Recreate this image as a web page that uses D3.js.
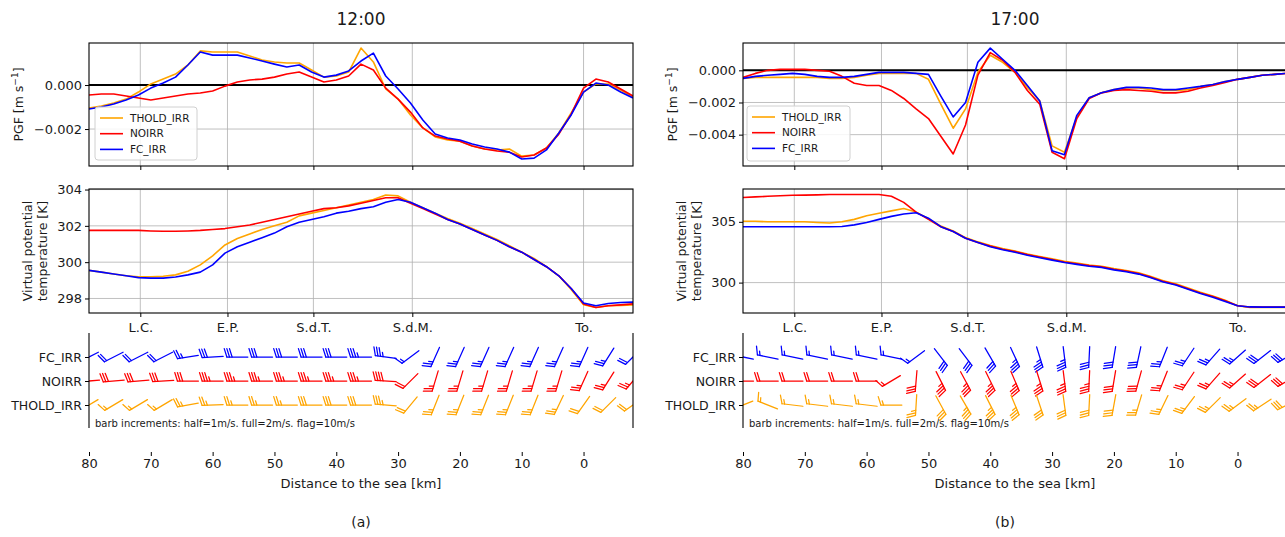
<!DOCTYPE html>
<html><head><meta charset="utf-8">
<script src="https://cdn.jsdelivr.net/npm/d3@7/dist/d3.min.js"></script>
<style>
body{margin:0;background:#fff}
svg{display:block;font-family:"DejaVu Sans",sans-serif}
</style></head><body>
<svg id="chart" width="1285" height="537"></svg>
<script>
// ---------------- DATA ----------------
const distanceKm = [80,78,76,74,72,70,68,66,64,62,60,58,56,54,52,50,48,46,44,42,40,38,36,34,32,30,28,26,24,22,20,18,16,14,12,10,8,6,4,2,0,-2,-4,-6,-8];
const landmarkNames = ["L.C.","E.P.","S.d.T.","S.d.M.","To."];
const landmarkKm = [71.7,57.6,43.7,27.7,0];
const distanceTicks = [80,70,60,50,40,30,20,10,0];
const seriesNames = ["THOLD_IRR","NOIRR","FC_IRR"];
const seriesColors = ["orange","red","blue"];
const barbRows = ["FC_IRR","NOIRR","THOLD_IRR"];
const panelTitles = ["12:00","17:00"];
const panelCaptions = ["(a)","(b)"];

// PGF [m s-1]
const pgf1200_THOLD = [-0.00105,-0.00095,-0.00082,-0.00064,-0.00032,0.00005,0.00027,0.00050,0.00091,0.00155,
  0.00150,0.00150,0.00150,0.00132,0.00114,0.00105,0.00100,0.00100,0.00068,0.00036,
  0.00041,0.00059,0.00168,0.00105,-0.00018,-0.00064,-0.00136,-0.00195,-0.00236,-0.00250,
  -0.00255,-0.00277,-0.00291,-0.00295,-0.00291,-0.00323,-0.00318,-0.00286,-0.00218,-0.00127,
  -0.00032,0.00005,0.00005,-0.00023,-0.00055];
const pgf1200_NOIRR = [-0.00045,-0.00041,-0.00041,-0.00050,-0.00059,-0.00068,-0.00059,-0.00050,-0.00041,-0.00036,
  -0.00027,-0.00005,0.00014,0.00023,0.00027,0.00036,0.00050,0.00059,0.00036,0.00014,
  0.00023,0.00041,0.00095,0.00068,-0.00014,-0.00064,-0.00123,-0.00195,-0.00232,-0.00245,
  -0.00255,-0.00277,-0.00291,-0.00300,-0.00305,-0.00327,-0.00318,-0.00286,-0.00223,-0.00132,
  -0.00014,0.00027,0.00014,-0.00018,-0.00050];
const pgf1200_FC = [-0.00109,-0.00100,-0.00086,-0.00068,-0.00045,-0.00014,0.00009,0.00036,0.00091,0.00150,
  0.00136,0.00136,0.00136,0.00123,0.00109,0.00095,0.00082,0.00091,0.00059,0.00036,
  0.00045,0.00064,0.00109,0.00145,0.00041,-0.00018,-0.00082,-0.00159,-0.00223,-0.00241,
  -0.00250,-0.00268,-0.00282,-0.00291,-0.00305,-0.00336,-0.00332,-0.00295,-0.00218,-0.00136,
  -0.00032,0.00009,0.00000,-0.00032,-0.00059];
const pgf1700_THOLD = [-0.0005,-0.00044,-0.00044,-0.00044,-0.00044,-0.00044,-0.00044,-0.0005,-0.0005,-0.00044,
  -0.00031,-0.00019,-0.00019,-0.00019,-0.00019,-0.00056,-0.0021,-0.0036,-0.0024,-0.000125,
  0.00094,0.0005,-0.000125,-0.00106,-0.0019,-0.0047,-0.0051,-0.0029,-0.0017,-0.0014,
  -0.0012,-0.0011,-0.0011,-0.0012,-0.00125,-0.00125,-0.0012,-0.001,-0.00088,-0.0007,
  -0.00056,-0.00044,-0.00031,-0.00025,-0.00019];
const pgf1700_NOIRR = [-0.00044,-0.00019,0,0.00006,0.00006,0.00006,0,-0.00006,-0.000375,-0.0008,
  -0.00094,-0.00094,-0.00125,-0.00175,-0.0024,-0.003,-0.0041,-0.0052,-0.0034,-0.0003,
  0.0011,0.000625,-0.000125,-0.00125,-0.0021,-0.0051,-0.0055,-0.003,-0.00175,-0.0014,
  -0.00125,-0.0012,-0.00125,-0.0013,-0.0014,-0.0014,-0.0013,-0.0011,-0.00094,-0.00075,
  -0.00056,-0.00044,-0.00031,-0.00025,-0.00019];
const pgf1700_FC = [-0.0005,-0.000375,-0.00031,-0.00025,-0.00019,-0.00025,-0.000375,-0.00044,-0.00044,-0.000375,
  -0.00025,-0.000125,-0.000125,-0.000125,-0.00019,-0.00025,-0.0016,-0.0029,-0.002,0.0005,
  0.00138,0.00069,0.0,-0.00094,-0.0019,-0.005,-0.00525,-0.0028,-0.0017,-0.0014,
  -0.0012,-0.00106,-0.00106,-0.0011,-0.0012,-0.0012,-0.0011,-0.001,-0.00088,-0.0007,
  -0.00056,-0.00044,-0.00031,-0.00025,-0.00019];

// Virtual potential temperature [K]
const thv1200_THOLD = [299.55,299.45,299.35,299.25,299.2,299.2,299.22,299.3,299.5,299.85,
  300.35,300.95,301.3,301.55,301.8,302.0,302.2,302.55,302.7,302.85,
  303.0,303.15,303.3,303.45,303.7,303.65,303.3,303.0,302.7,302.4,
  302.15,301.85,301.55,301.25,300.9,300.55,300.2,299.75,299.25,298.5,
  297.65,297.5,297.6,297.62,297.65];
const thv1200_NOIRR = [301.75,301.75,301.75,301.75,301.75,301.72,301.7,301.7,301.72,301.75,
  301.8,301.85,301.95,302.05,302.2,302.35,302.5,302.65,302.8,302.95,
  303.0,303.1,303.25,303.4,303.55,303.55,303.25,302.95,302.65,302.35,
  302.1,301.8,301.5,301.2,300.85,300.55,300.15,299.75,299.25,298.55,
  297.7,297.5,297.6,297.65,297.7];
const thv1200_FC = [299.55,299.45,299.35,299.25,299.15,299.12,299.12,299.18,299.3,299.45,
  299.85,300.5,300.85,301.1,301.35,301.6,301.95,302.2,302.35,302.5,
  302.7,302.8,302.95,303.05,303.3,303.45,303.3,303.0,302.7,302.35,
  302.1,301.8,301.5,301.2,300.85,300.55,300.15,299.75,299.25,298.55,
  297.75,297.6,297.72,297.78,297.8];
const thv1700_THOLD = [305.05,305.05,305.0,305.0,305.0,305.0,304.95,304.9,305.0,305.2,
  305.5,305.7,305.9,306.1,305.8,305.25,304.65,304.25,303.7,303.35,
  303.05,302.8,302.6,302.35,302.15,301.95,301.75,301.6,301.45,301.35,
  301.15,301.0,300.8,300.5,300.15,299.9,299.55,299.2,298.9,298.55,
  298.1,297.95,297.95,297.95,297.95];
const thv1700_NOIRR = [307.0,307.05,307.1,307.15,307.18,307.2,307.22,307.25,307.25,307.25,
  307.25,307.25,307.1,306.6,305.8,305.2,304.6,304.2,303.65,303.3,
  303.0,302.75,302.55,302.3,302.1,301.9,301.7,301.55,301.4,301.3,
  301.1,300.95,300.75,300.45,300.1,299.85,299.5,299.15,298.85,298.5,
  298.1,298.0,297.98,297.98,297.98];
const thv1700_FC = [304.6,304.6,304.6,304.6,304.6,304.6,304.6,304.6,304.62,304.75,
  304.95,305.2,305.45,305.65,305.75,305.3,304.6,304.2,303.65,303.3,
  302.95,302.7,302.5,302.25,302.05,301.85,301.65,301.5,301.35,301.25,
  301.05,300.9,300.7,300.4,300.05,299.8,299.45,299.1,298.8,298.45,
  298.1,298.0,297.98,297.98,297.98];

// Wind barbs (u: towards right, v: upwards) [m/s]
const barbKm = [80,76,72,68,64,60,56,52,48,44,40,36,32,28,24,20,16,12,8,4,0,-4,-8];
const u1200_THOLD = [3,3,3,3,4.5,5,5,5,5,5.5,5.5,6,6.5,2.5,1.8,1.8,1.8,1.8,1.8,2,2.5,3,3.5];
const v1200_THOLD = [1.8,1.8,1.8,1.8,0.8,0.2,0,0,0,0,0,0,-0.5,3,4.5,4.5,4.5,4.5,4.5,4.2,3.5,3,2.5];
const u1200_NOIRR = [6,6,6,6,6,7,7,7,7,7,7,7,8,3,1.5,1.5,1.5,1.5,1.5,1.5,2,2.5,3];
const v1200_NOIRR = [0.5,0.5,0.5,0.3,0,0,0,0,0,0,0,0,-0.5,3,5,5,5,5,5,5,4.5,4,3.5];
const u1200_FC = [3.5,3.5,3.5,3.5,5,6,6,6,6,6,6,7,7,2,2,2,2,2,2,2,2,2.5,3];
const v1200_FC = [1.8,1.8,1.8,1.8,0.8,0.3,0,0,0,0,0,0,-1,1.5,4.5,4.5,4.5,4.5,4.5,4.5,4.5,4,3];
const u1700_THOLD = [2.5,2.5,2.5,2.5,2.5,2.5,3,0.3,-3,-3.5,-3,-2.5,-2,-0.8,0.3,1,1.5,2.2,3,3.5,4,4.5,5];
const v1700_THOLD = [1,-1,-0.3,-0.3,-0.3,-0.3,0,5,5.5,6,6,6,6,6,6,5.5,5,4.5,4,3.5,3,3,2.5];
const u1700_NOIRR = [3.5,3.5,3.5,3.5,3.5,3.5,2.5,0.5,-3,-3.5,-3.2,-2.8,-2,-0.8,0.3,1,1.5,2,3,3.5,4,4.5,5];
const v1700_NOIRR = [0,0,0,0,0,0,1.5,6,6,6.5,6.5,6.5,6.5,6.5,6.5,6,5.5,5,4.5,4,3.5,3.5,3];
const u1700_FC = [2.5,2.5,2.5,2.5,2.5,2.5,2.5,2,-3.5,-3.8,-3.2,-2.8,-2,-0.8,0.3,1,1.2,2,3,3.5,4,4.5,5];
const v1700_FC = [-0.5,-0.5,-0.5,-0.5,-0.5,-0.5,-0.5,1.5,4.5,5,5.5,6,6.5,6.5,6.2,6,5.5,5,4.5,4,3.5,3.5,3];

// ---------------- LAYOUT ----------------
const svg = d3.select("#chart");
const PGF_Y = [43,166], THV_Y = [189,313], BARB_Y = [333,428];
const columns = [
  {x0:89, x1:633, capX:361, pgf:[pgf1200_THOLD,pgf1200_NOIRR,pgf1200_FC], pgfDom:[-0.00368,0.00191], pgfTicks:[-0.002,0],
   thv:[thv1200_THOLD,thv1200_NOIRR,thv1200_FC], thvDom:[297.2,304.03], thvTicks:[298,300,302,304],
   u:{THOLD_IRR:u1200_THOLD,NOIRR:u1200_NOIRR,FC_IRR:u1200_FC}, v:{THOLD_IRR:v1200_THOLD,NOIRR:v1200_NOIRR,FC_IRR:v1200_FC},
   legend:[95,107,102,53]},
  {x0:743, x1:1287, capX:1005, pgf:[pgf1700_THOLD,pgf1700_NOIRR,pgf1700_FC], pgfDom:[-0.00595,0.0017], pgfTicks:[-0.004,-0.002,0],
   thv:[thv1700_THOLD,thv1700_NOIRR,thv1700_FC], thvDom:[297.5,307.7], thvTicks:[300,305],
   u:{THOLD_IRR:u1700_THOLD,NOIRR:u1700_NOIRR,FC_IRR:u1700_FC}, v:{THOLD_IRR:v1700_THOLD,NOIRR:v1700_NOIRR,FC_IRR:v1700_FC},
   legend:[747,106,103,55]}
];
const TXT = "#1a1a1a";

function styleAxis(g, size){
  g.select(".domain").remove();
  g.selectAll(".tick line").attr("stroke","#000").attr("stroke-width",1);
  g.selectAll(".tick text").attr("fill",TXT).attr("font-size",size).attr("font-family","DejaVu Sans");
}

function drawBarb(g, cx, cy, u, v, L, color){
  const spd = Math.hypot(u,v);
  const r = Math.round(spd);
  if (spd === 0 || r === 0){
    g.append("circle").attr("cx",cx).attr("cy",cy).attr("r",0.15*L).attr("fill","none").attr("stroke",color);
    return;
  }
  const dx = -u/spd, dy = -v/spd;          // towards wind source (math coords)
  const px = dy, py = -dx;                 // feathers on the right side
  const P = (t,s) => [cx + dx*t + px*s, cy - (dy*t + py*s)];
  const sp = 0.125*L, fh = 0.4*L, fw = 0.25*L;
  const nflags = Math.floor(r/10);
  const rem = r - nflags*10;
  const nb = Math.floor(rem/2);
  const half = (rem % 2) >= 1;
  const segs = [[P(-L/2,0),P(L/2,0)]];
  const polys = [];
  let off = L;
  for (let i=0;i<nflags;i++){
    if (off !== L) off += sp/2;
    const t = -L/2+off;
    polys.push([P(t,0),P(t-fw/2,fh),P(t-fw,0)]);
    off -= fw + sp;
  }
  for (let i=0;i<nb;i++){
    const t = -L/2+off;
    segs.push([P(t,0),P(t+fw/2,fh)]);
    off -= sp;
  }
  if (half){
    if (off === L) off -= 1.5*sp;
    const t = -L/2+off;
    segs.push([P(t,0),P(t+fw/4,fh/2)]);
  }
  const line = d3.line();
  segs.forEach(s => g.append("path").attr("d",line(s)).attr("stroke",color).attr("stroke-width",1.25)
    .attr("fill","none").attr("stroke-linecap","round"));
  polys.forEach(p => g.append("path").attr("d",line(p)+"Z").attr("fill",color).attr("stroke",color));
}

columns.forEach((c, ci) => {
  const x = d3.scaleLinear().domain([80,-8]).range([c.x0,c.x1]);
  const root = svg.append("g");

  // title
  root.append("text").attr("x",(c.x0+c.x1)/2).attr("y",25).attr("text-anchor","middle")
    .attr("font-size",17).attr("fill",TXT).text(panelTitles[ci]);

  function linePanel(yr, dom, ticks, data, fmt, isPgf){
    const y = d3.scaleLinear().domain(dom).range([yr[1],yr[0]]);
    const id = `clip${ci}${isPgf?"p":"t"}`;
    root.append("clipPath").attr("id",id).append("rect")
      .attr("x",c.x0).attr("y",yr[0]).attr("width",c.x1-c.x0).attr("height",yr[1]-yr[0]);
    // grid
    root.append("g").selectAll("line").data(landmarkKm).join("line")
      .attr("x1",d=>x(d)).attr("x2",d=>x(d)).attr("y1",yr[0]).attr("y2",yr[1])
      .attr("stroke","#b0b0b0").attr("stroke-width",0.8);
    root.append("g").selectAll("line").data(ticks).join("line")
      .attr("x1",c.x0).attr("x2",c.x1).attr("y1",d=>y(d)).attr("y2",d=>y(d))
      .attr("stroke","#b0b0b0").attr("stroke-width",0.8);
    if (isPgf){
      root.append("line").attr("x1",c.x0).attr("x2",c.x1).attr("y1",y(0)).attr("y2",y(0))
        .attr("stroke","#000").attr("stroke-width",2);
    }
    const lg = root.append("g").attr("clip-path",`url(#${id})`);
    const line = d3.line().x((d,i)=>x(distanceKm[i])).y(d=>y(d));
    data.forEach((arr,si) => {
      lg.append("path").attr("d",line(arr)).attr("fill","none")
        .attr("stroke",seriesColors[si]).attr("stroke-width",1.6).attr("stroke-linejoin","round");
    });
    // frame
    root.append("rect").attr("x",c.x0).attr("y",yr[0]).attr("width",c.x1-c.x0).attr("height",yr[1]-yr[0])
      .attr("fill","none").attr("stroke","#000").attr("stroke-width",1.1);
    // y axis
    const ya = root.append("g").attr("transform",`translate(${c.x0},0)`)
      .call(d3.axisLeft(y).tickValues(ticks).tickFormat(fmt).tickSize(4).tickPadding(3));
    styleAxis(ya,13);
    // landmark x axis
    const xa = root.append("g").attr("transform",`translate(0,${yr[1]})`)
      .call(d3.axisBottom(x).tickValues(landmarkKm).tickFormat((d,i)=> isPgf ? "" : landmarkNames[i]).tickSize(4).tickPadding(6));
    styleAxis(xa,13);
    return y;
  }

  linePanel(PGF_Y, c.pgfDom, c.pgfTicks, c.pgf, d3.format(".3f"), true);
  linePanel(THV_Y, c.thvDom, c.thvTicks, c.thv, d3.format("d"), false);

  // legend
  const [lx,ly,lw,lh] = c.legend;
  const leg = root.append("g");
  leg.append("rect").attr("x",lx).attr("y",ly).attr("width",lw).attr("height",lh).attr("rx",3)
    .attr("fill","#fff").attr("fill-opacity",0.85).attr("stroke","#d0d0d0");
  seriesNames.forEach((n,i) => {
    const yy = ly + 11 + i*15.7;
    leg.append("line").attr("x1",lx+5).attr("x2",lx+28).attr("y1",yy).attr("y2",yy)
      .attr("stroke",seriesColors[i]).attr("stroke-width",1.6);
    leg.append("text").attr("x",lx+35).attr("y",yy).attr("dy","0.35em").attr("font-size",10.5)
      .attr("fill",TXT).text(n);
  });

  // y labels
  const labX = c.x0 - 66.5;
  const pl = root.append("text").attr("transform",`translate(${labX},${(PGF_Y[0]+PGF_Y[1])/2}) rotate(-90)`)
    .attr("text-anchor","middle").attr("font-size",12.5).attr("fill",TXT);
  pl.append("tspan").text("PGF [m s");
  pl.append("tspan").attr("dy",-5).attr("font-size",9).text("−1");
  pl.append("tspan").attr("dy",5).text("]");
  ["Virtual potential","temperature [K]"].forEach((t,i) => {
    root.append("text").attr("transform",`translate(${c.x0-57+i*15},${(THV_Y[0]+THV_Y[1])/2}) rotate(-90)`)
      .attr("text-anchor","middle").attr("font-size",12.5).attr("fill",TXT).text(t);
  });

  // barb panel
  const yb = d3.scalePoint().domain(barbRows).range([357,405]);
  const bid = `clipb${ci}`;
  root.append("clipPath").attr("id",bid).append("rect")
    .attr("x",c.x0).attr("y",BARB_Y[0]).attr("width",c.x1-c.x0).attr("height",BARB_Y[1]-BARB_Y[0]);
  const bg = root.append("g").attr("clip-path",`url(#${bid})`);
  barbRows.forEach(name => {
    const si = seriesNames.indexOf(name);
    barbKm.forEach((k,j) => {
      drawBarb(bg, x(k), yb(name), c.u[name][j], c.v[name][j], 21, seriesColors[si]);
    });
  });
  [c.x0,c.x1].forEach(xx => root.append("line").attr("x1",xx).attr("x2",xx).attr("y1",BARB_Y[0]).attr("y2",BARB_Y[1])
    .attr("stroke","#000").attr("stroke-width",1.1));
  const ba = root.append("g").attr("transform",`translate(${c.x0},0)`)
    .call(d3.axisLeft(yb).tickSize(4).tickPadding(3));
  styleAxis(ba,12.5);
  root.append("text").attr("x",c.x0+6).attr("y",427).attr("font-size",10).attr("fill",TXT)
    .text("barb increments: half=1m/s. full=2m/s. flag=10m/s");

  // distance axis
  const da = root.append("g").attr("transform",`translate(0,452)`)
    .call(d3.axisBottom(x).tickValues(distanceTicks).tickFormat(d3.format("d")).tickSize(4).tickPadding(3));
  styleAxis(da,13);
  root.append("text").attr("x",(c.x0+c.x1)/2).attr("y",488).attr("text-anchor","middle")
    .attr("font-size",13).attr("fill",TXT).text("Distance to the sea [km]");

  root.append("text").attr("x",c.capX).attr("y",527).attr("text-anchor","middle")
    .attr("font-size",14).attr("fill",TXT).text(panelCaptions[ci]);
});
</script>
</body></html>
